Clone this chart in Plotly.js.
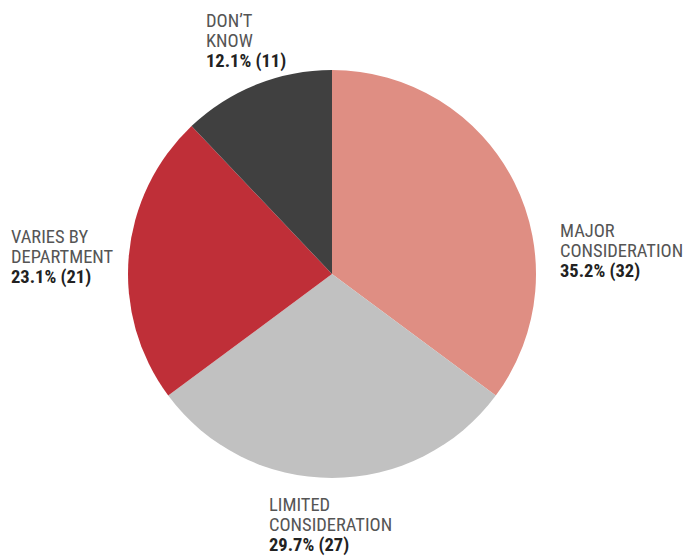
<!DOCTYPE html>
<html>
<head>
<meta charset="utf-8">
<script src="https://cdn.plot.ly/plotly-3.0.1.min.js"></script>
<style>html,body{margin:0;padding:0;background:#fff;}#chart{width:688px;height:557px;}</style>
</head>
<body>
<div id="chart"></div>
<script>
const categories = ["MAJOR CONSIDERATION", "LIMITED CONSIDERATION", "VARIES BY DEPARTMENT", "DON’T KNOW"];
const labelLines = [["MAJOR", "CONSIDERATION"], ["LIMITED", "CONSIDERATION"], ["VARIES BY", "DEPARTMENT"], ["DON’T", "KNOW"]];
const values = [32, 27, 21, 11];
const colors = ["#df8e83", "#c1c1c1", "#bf2f38", "#404040"];
// label anchor positions (pixels: left x, centre y of first line)
const labelPos = [[559, 231], [268, 505], [10, 237], [205, 21]];
const lineOffsets = [0, 19.5, 40];

const W = 688, H = 557;
const total = values.reduce((a, b) => a + b, 0);
const FONT = "'Roboto Condensed', 'Arial Narrow', sans-serif";

const annotations = [];
categories.forEach((c, i) => {
  const pct = (values[i] / total * 100).toFixed(1);
  const lines = labelLines[i].concat(['<b>' + pct + '% (' + values[i] + ')</b>']);
  lines.forEach((t, j) => {
    const last = j === lines.length - 1;
    annotations.push({
      xref: "paper", yref: "paper",
      x: labelPos[i][0] / W, y: 1 - (labelPos[i][1] + lineOffsets[j]) / H,
      xanchor: "left", yanchor: "middle", align: "left",
      showarrow: false, borderpad: 0,
      text: t,
      font: {family: FONT, size: 18.5, color: last ? "#222" : "#555"}
    });
  });
});

const data = [{
  type: "pie",
  labels: categories,
  values: values,
  sort: false,
  direction: "clockwise",
  rotation: 0,
  textinfo: "none",
  hoverinfo: "none",
  marker: {colors: colors, line: {width: 0}},
  domain: {x: [128 / W, 536 / W], y: [(H - 478) / H, (H - 70) / H]},
  showlegend: false
}];

const layout = {
  width: W, height: H,
  margin: {l: 0, r: 0, t: 0, b: 0},
  paper_bgcolor: "#fff",
  showlegend: false,
  annotations: annotations
};

Plotly.newPlot("chart", data, layout, {displayModeBar: false, staticPlot: true});
</script>
</body>
</html>
